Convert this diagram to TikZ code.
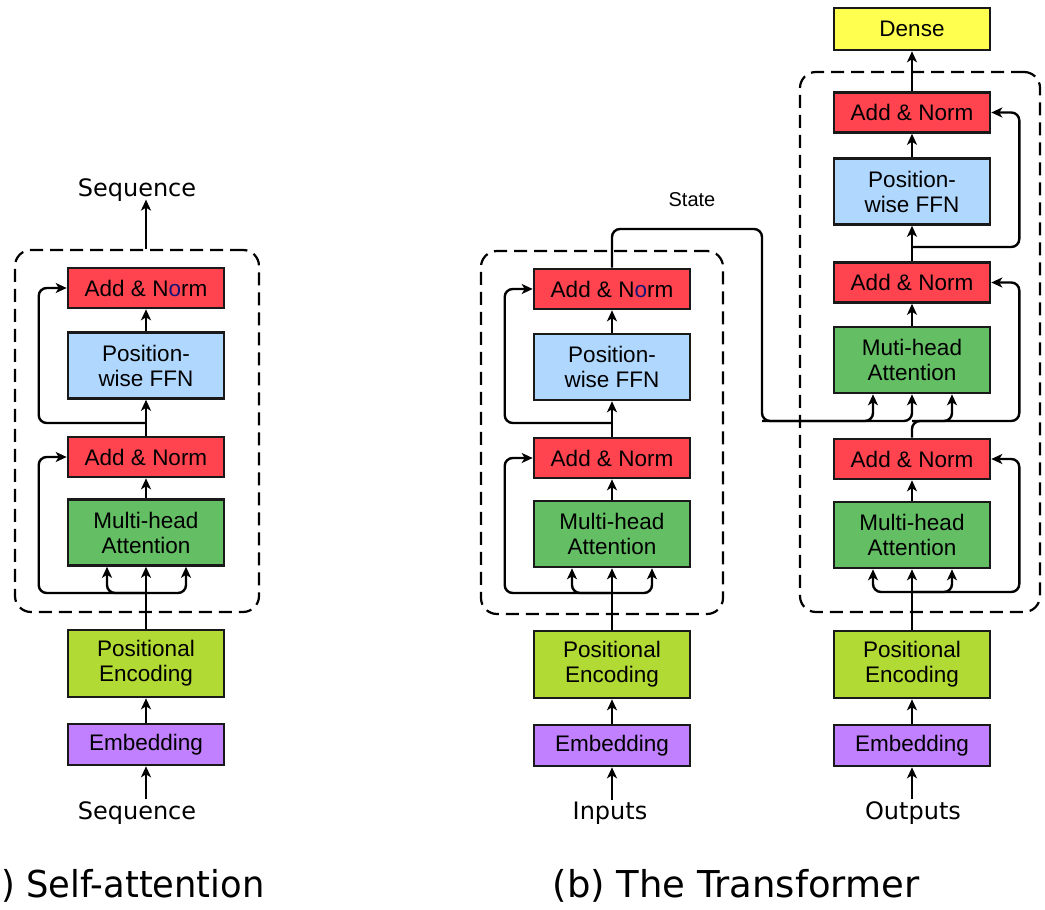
\documentclass[tikz,border=0pt]{standalone}
\usepackage{fontspec}
\setmainfont{Liberation Sans}
\newfontfamily\lblfont{DejaVu Sans}
\newfontfamily\capnarrow[FakeStretch=0.955]{DejaVu Sans}
\usetikzlibrary{arrows.meta,calc}
\definecolor{cAN}{RGB}{255,68,80}
\definecolor{cFF}{RGB}{176,216,255}
\definecolor{cMH}{RGB}{100,190,100}
\definecolor{cPE}{RGB}{178,218,52}
\definecolor{cEM}{RGB}{192,128,255}
\definecolor{cDE}{RGB}{255,255,80}
\definecolor{cO}{RGB}{20,20,120}
\tikzset{
  blk/.style={draw=black!90, line width=2.6pt, minimum width=156pt, inner sep=0pt, align=center,
    font=\fontsize{22.5}{25}\selectfont},
  an/.style={blk, fill=cAN, minimum height=40pt},
  ffn/.style={blk, fill=cFF, minimum height=66pt},
  mha/.style={blk, fill=cMH, minimum height=66pt},
  pe/.style={blk, fill=cPE, minimum height=67pt},
  emb/.style={blk, fill=cEM, minimum height=41pt},
  dns/.style={blk, fill=cDE, minimum height=42pt},
  lbl/.style={font=\lblfont\fontsize{24}{28}\selectfont, inner sep=2pt},
  captxt/.style={font=\lblfont\fontsize{37}{42}\selectfont, inner sep=0pt},
  arr/.style={line width=2.4pt, -{Stealth[length=11pt,width=10pt,inset=3pt]}, rounded corners=8pt},
  grp/.style={draw, line width=2.2pt, dash pattern=on 13pt off 7pt, rounded corners=16pt}
}
\begin{document}
\begin{tikzpicture}[x=1pt,y=-1pt]
\useasboundingbox (0,0) rectangle (1045,910);
% ---------- left: self-attention ----------
\node[grp, minimum width=244pt, minimum height=362pt] (gL) at (137,431) {};
\node[an]  (aL2) at (146,288)   {Add \& N\textcolor{cO}{o}rm};
\node[ffn] (fL)  at (146,365.5) {Position-\\wise FFN};
\node[an]  (aL1) at (146,457)   {Add \& Norm};
\node[mha] (mL)  at (146,532.5) {Multi-head\\Attention};
\node[pe]  (pL)  at (146,663.5) {Positional\\Encoding};
\node[emb] (eL)  at (146,744.5) {Embedding};
\node[lbl] (sIn)  at (137,813) {Sequence};
\node[lbl] (sOut) at (137,190) {Sequence};
\coordinate (jL) at (146,593);
\coordinate (kL) at (146,423);
\draw[arr] (sIn.north -| eL) -- (eL.south);
\draw[arr] (eL) -- (pL);
\draw[arr] (pL) -- (mL);
\draw[arr] (jL) -| ([xshift=-39pt]mL.south);
\draw[arr] (jL) -| ([xshift=40pt]mL.south);
\draw[arr] (jL) -| ([xshift=-28pt]aL1.west) -- (aL1.west);
\draw[arr] (mL) -- (aL1);
\draw[arr] (aL1) -- (fL);
\draw[arr] (kL) -| ([xshift=-28pt]aL2.west) -- (aL2.west);
\draw[arr] (fL) -- (aL2);
\draw[arr] (gL.north -| aL2) -- ([yshift=4pt]sOut.south -| aL2);
% ---------- middle: encoder ----------
\node[grp, minimum width=242pt, minimum height=363pt] (gM) at (602,432.5) {};
\node[an]  (aM2) at (612,289)   {Add \& N\textcolor{cO}{o}rm};
\node[ffn] (fM)  at (612,367)   {Position-\\wise FFN};
\node[an]  (aM1) at (612,458)   {Add \& Norm};
\node[mha] (mM)  at (612,534)   {Multi-head\\Attention};
\node[pe]  (pM)  at (612,664.5) {Positional\\Encoding};
\node[emb] (eM)  at (612,745.5) {Embedding};
\node[lbl] (iIn) at (610,813) {Inputs};
\coordinate (jM) at (612,593);
\coordinate (kM) at (612,423);
\draw[arr] (iIn.north -| eM) -- (eM.south);
\draw[arr] (eM) -- (pM);
\draw[arr] (pM) -- (mM);
\draw[arr] (jM) -| ([xshift=-40pt]mM.south);
\draw[arr] (jM) -| ([xshift=40pt]mM.south);
\draw[arr] (jM) -| ([xshift=-28pt]aM1.west) -- (aM1.west);
\draw[arr] (mM) -- (aM1);
\draw[arr] (aM1) -- (fM);
\draw[arr] (kM) -| ([xshift=-28pt]aM2.west) -- (aM2.west);
\draw[arr] (fM) -- (aM2);
% ---------- right: decoder ----------
\node[grp, minimum width=240pt, minimum height=540pt] (gR) at (920,342) {};
\node[dns] (dR)  at (912,29)    {Dense};
\node[an]  (aR3) at (912,112.5) {Add \& Norm};
\node[ffn] (fR)  at (912,191.5) {Position-\\wise FFN};
\node[an]  (aR2) at (912,282.5) {Add \& Norm};
\node[mha] (mR2) at (912,360)   {Muti-head\\Attention};
\node[an]  (aR1) at (912,459)   {Add \& Norm};
\node[mha] (mR1) at (912,535)   {Multi-head\\Attention};
\node[pe]  (pR)  at (912,664.5) {Positional\\Encoding};
\node[emb] (eR)  at (912,745.5) {Embedding};
\node[lbl] (oIn) at (913,813) {Outputs};
\coordinate (jR) at (912,592);
\coordinate (kR1) at (912,421);
\coordinate (kR2) at (912,247);
\draw[arr] (oIn.north -| eR) -- (eR.south);
\draw[arr] (eR) -- (pR);
\draw[arr] (pR) -- (mR1);
\draw[arr] (jR) -| ([xshift=-39pt]mR1.south);
\draw[arr] (jR) -| ([xshift=40pt]mR1.south);
\draw[arr] (jR) -| ([xshift=28pt]aR1.east) -- (aR1.east);
\draw[arr] (mR1) -- (aR1);
\draw[arr] (aR1.north) -- (kR1) -| ([xshift=40pt]mR2.south);
\draw[arr] (kR1) -| ([xshift=28pt]aR2.east) -- (aR2.east);
\draw[arr] (mR2) -- (aR2);
\draw[arr] (aR2) -- (fR);
\draw[arr] (kR2) -| ([xshift=28pt]aR3.east) -- (aR3.east);
\draw[arr] (fR) -- (aR3);
\draw[arr] (aR3) -- (dR);
% ---------- state ----------
\coordinate (s1) at (762,229);
\coordinate (s2) at (762,421);
\node[font=\fontsize{20}{24}\selectfont, inner sep=0pt] (st) at (692,200) {State};
\draw[arr] (aM2.north) |- (s1) -- (s2) -| ([xshift=-39pt]mR2.south);
\draw[arr] (s2) -| (mR2.south);
% ---------- captions ----------
\node[captxt, font=\capnarrow\fontsize{37}{42}\selectfont, anchor=west] (capA) at (1,886) {) Self-attention};
\node[captxt] (capB) at (736,886) {(b) The Transformer};
\end{tikzpicture}
\end{document}
